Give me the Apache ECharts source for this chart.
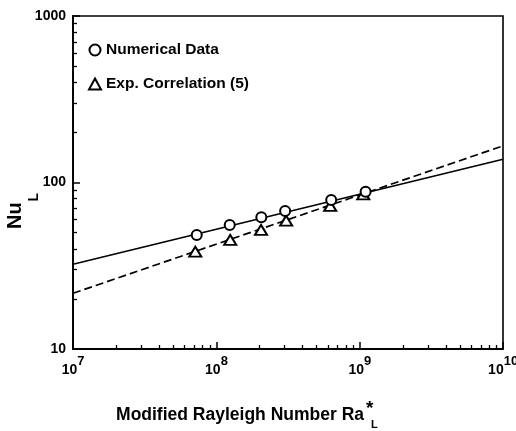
<!DOCTYPE html>
<html><head><meta charset="utf-8">
<script src="https://cdn.jsdelivr.net/npm/echarts@6/dist/echarts.min.js"></script>
<style>html,body{margin:0;padding:0;background:#fff}#c{width:516px;height:431px}</style>
</head><body><div id="c"></div>
<script>
const numericalRa = [7.3e7, 1.24e8, 2.06e8, 3.02e8, 6.33e8, 1.10e9];
const numericalNu = [48.4, 55.6, 61.8, 67.4, 78.5, 88.1];
const correlationRa = [7.13e7, 1.25e8, 2.05e8, 3.07e8, 6.23e8, 1.06e9];
const correlationNu = [38.4, 45.2, 51.9, 59.0, 72.3, 84.9];
const numericalFitRa = [1e7, 1e10];
const numericalFitNu = [32.3, 138];
const correlationFitRa = [1e7, 1e10];
const correlationFitNu = [21.6, 166];
const xTickExponents = [7, 8, 9, 10];
const yTickLabels = ['10', '100', '1000'];
const minorMultipliers = [2, 3, 4, 5, 6, 7, 8, 9];
const xDecades = [7, 8, 9];
const yDecades = [1, 2];

const FF = '"Liberation Sans", Arial, sans-serif';
const lg = Math.log10;
const pairs = (xs, ys) => xs.map((x, i) => [lg(x), lg(ys[i])]);
const minorTicks = decs => decs.flatMap(d => minorMultipliers.map(m => d + lg(m)));

const chart = echarts.init(document.getElementById('c'), null, {renderer: 'canvas'});
const black = '#000';
chart.setOption({
  animation: false,
  backgroundColor: '#fff',
  grid: {left: 73, right: 13, top: 16, bottom: 82, show: true, borderColor: black, borderWidth: 1.6,
         backgroundColor: 'transparent', containLabel: false, outerBoundsMode: 'none'},
  legend: {
    left: 83, top: 37, orient: 'vertical', itemGap: 18, itemWidth: 12, itemHeight: 11,
    textStyle: {fontSize: 15.5, fontWeight: 'bold', fontFamily: FF, color: black},
    data: ['Numerical Data', 'Exp. Correlation (5)']
  },
  xAxis: [
    {
      type: 'value', min: 7, max: 10, interval: 1, position: 'bottom',
      axisLine: {lineStyle: {color: black, width: 1.8}},
      axisTick: {inside: true, length: 7, lineStyle: {color: black, width: 1.5}, customValues: xTickExponents},
      axisLabel: {
        margin: 6, showMinLabel: true, showMaxLabel: true, customValues: xTickExponents,
        formatter: v => '{sp| }{b|10}{s|' + v + '}',
        rich: {
          sp: {fontSize: 1, lineHeight: 22},
          b: {fontSize: 14, fontWeight: 'bold', fontFamily: FF, color: black, lineHeight: 14, verticalAlign: 'bottom'},
          s: {fontSize: 13, fontWeight: 'bold', fontFamily: FF, color: black, lineHeight: 16, verticalAlign: 'top'}
        }
      },
      splitLine: {show: false}
    },
    {
      type: 'value', min: 7, max: 10, position: 'bottom',
      axisLine: {show: false},
      axisTick: {inside: true, length: 4, lineStyle: {color: black, width: 1.3}, customValues: minorTicks(xDecades)},
      axisLabel: {show: false},
      splitLine: {show: false}
    }
  ],
  yAxis: [
    {
      type: 'value', min: 1, max: 3, interval: 1, position: 'left',
      axisLine: {lineStyle: {color: black, width: 1.8}},
      axisTick: {inside: true, length: 7, lineStyle: {color: black, width: 1.5}},
      axisLabel: {
        margin: 7, showMinLabel: true, showMaxLabel: true,
        formatter: v => yTickLabels[Math.round(v) - 1],
        fontSize: 14, fontWeight: 'bold', fontFamily: FF, color: black
      },
      splitLine: {show: false}
    },
    {
      type: 'value', min: 1, max: 3, position: 'left',
      axisLine: {show: false},
      axisTick: {inside: true, length: 4, lineStyle: {color: black, width: 1.3}, customValues: minorTicks(yDecades)},
      axisLabel: {show: false},
      splitLine: {show: false}
    }
  ],
  series: [
    {
      type: 'line', name: 'fitNumerical', data: pairs(numericalFitRa, numericalFitNu),
      showSymbol: false, symbol: 'none', lineStyle: {color: black, width: 1.7}, z: 2, silent: true
    },
    {
      type: 'line', name: 'fitCorrelation', data: pairs(correlationFitRa, correlationFitNu),
      showSymbol: false, symbol: 'none', lineStyle: {color: black, width: 1.7, type: [8, 4]}, z: 2, silent: true
    },
    {
      type: 'scatter', name: 'Numerical Data', data: pairs(numericalRa, numericalNu),
      symbol: 'circle', symbolSize: 10,
      itemStyle: {color: '#fff', borderColor: black, borderWidth: 2, opacity: 1}, z: 4
    },
    {
      type: 'scatter', name: 'Exp. Correlation (5)', data: pairs(correlationRa, correlationNu),
      symbol: 'triangle', symbolSize: [12, 10],
      itemStyle: {color: '#fff', borderColor: black, borderWidth: 2, opacity: 1}, z: 3
    }
  ],
  graphic: [
    {
      type: 'text', x: 23, y: 211, rotation: Math.PI / 2,
      style: {
        text: '{n|Nu}{sp| }{s|L}', align: 'center', verticalAlign: 'middle',
        rich: {
          n: {fontSize: 20, fontWeight: 'bold', fontFamily: FF, fill: black, lineHeight: 20, verticalAlign: 'top'},
          sp: {fontSize: 3, lineHeight: 36},
          s: {fontSize: 14, fontWeight: 'bold', fontFamily: FF, fill: black, lineHeight: 14, verticalAlign: 'bottom'}
        }
      }
    },
    {
      type: 'text', x: 364, y: 415,
      style: {text: 'Modified Rayleigh Number Ra', font: 'bold 17.5px ' + FF, fill: black, align: 'right', verticalAlign: 'middle'}
    },
    {
      type: 'text', x: 366, y: 409,
      style: {text: '*', font: 'bold 19px ' + FF, fill: black, align: 'left', verticalAlign: 'middle'}
    },
    {
      type: 'text', x: 371, y: 425,
      style: {text: 'L', font: 'bold 11px ' + FF, fill: black, align: 'left', verticalAlign: 'middle'}
    }
  ]
});
</script>
</body></html>
